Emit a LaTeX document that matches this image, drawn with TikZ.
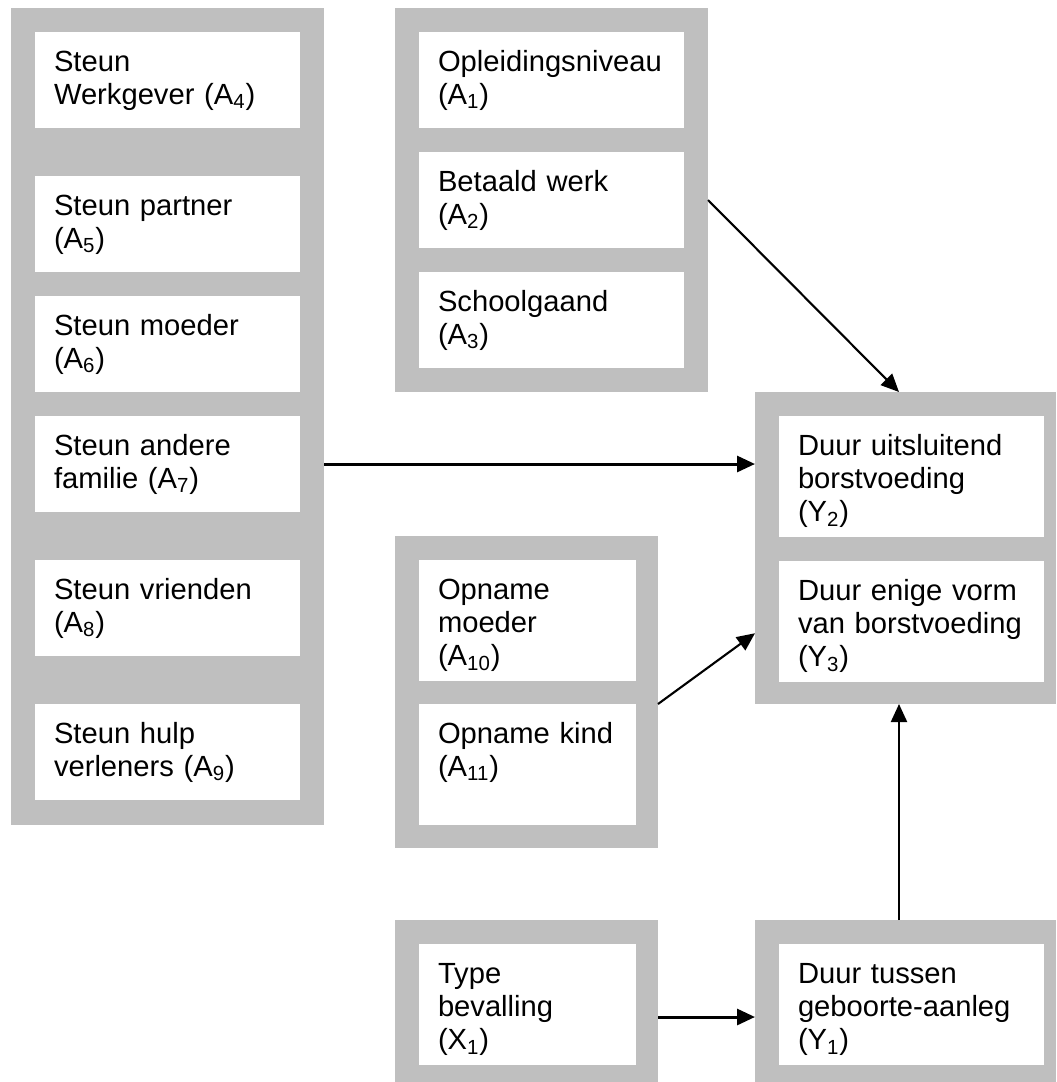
\documentclass[tikz,border=0pt]{standalone}
\usepackage{fontspec}
\setmainfont{Liberation Sans}
\usepackage{tikz}
\usetikzlibrary{arrows.meta, calc}
\definecolor{panelgray}{HTML}{BFBFBF}
\newcommand{\varfont}{\fontsize{16.6}{19}\selectfont}

\begin{document}
\begin{tikzpicture}[
    panel/.style={rectangle, fill=panelgray, anchor=north west, inner sep=0pt, outer sep=0pt},
    var/.style={rectangle, fill=white, anchor=north west, align=left, font=\varfont,
        inner xsep=0.38cm, inner ysep=0pt, outer sep=0pt, text height=0.78cm},
    wide/.style={text width=4.54cm},
    narrow/.style={text width=3.58cm},
    two/.style={text depth=1.14cm},
    three/.style={text depth=1.63cm},
    arr/.style={-{Triangle[length=0.36cm, width=0.32cm]}, line width=1.2pt, black},
    heavy/.style={line width=1.7pt}
]
    \useasboundingbox (0,0) rectangle (21.12,-21.64);

    % grey panels
    \node[panel, minimum width=6.26cm, minimum height=16.34cm] (support) at (0.22,-0.16) {};
    \node[panel, minimum width=6.26cm, minimum height=7.68cm] (socio) at (7.90,-0.16) {};
    \node[panel, minimum width=5.26cm, minimum height=6.24cm] (hosp) at (7.90,-10.72) {};
    \node[panel, minimum width=6.02cm, minimum height=6.24cm] (outcome) at (15.10,-7.84) {};
    \node[panel, minimum width=5.26cm, minimum height=3.24cm] (birth) at (7.90,-18.40) {};
    \node[panel, minimum width=6.02cm, minimum height=3.24cm] (timing) at (15.10,-18.40) {};

    % column 1: support
    \node[var, wide, two] (werkgever) at (0.70,-0.64) {Steun\\Werkgever (A\textsubscript{4})};
    \node[var, wide, two] (partner) at (0.70,-3.52) {Steun partner\\(A\textsubscript{5})};
    \node[var, wide, two] (moeder) at (0.70,-5.92) {Steun moeder\\(A\textsubscript{6})};
    \node[var, wide, two] (familie) at (0.70,-8.32) {Steun andere\\familie (A\textsubscript{7})};
    \node[var, wide, two] (vrienden) at (0.70,-11.20) {Steun vrienden\\(A\textsubscript{8})};
    \node[var, wide, two] (hulp) at (0.70,-14.08) {Steun hulp\\verleners (A\textsubscript{9})};

    % column 2: background, hospital, birth
    \node[var, wide, two] (opleiding) at (8.38,-0.64) {Opleidingsniveau\\(A\textsubscript{1})};
    \node[var, wide, two] (werk) at (8.38,-3.04) {Betaald werk\\(A\textsubscript{2})};
    \node[var, wide, two] (school) at (8.38,-5.44) {Schoolgaand\\(A\textsubscript{3})};
    \node[var, narrow, three] (opnmoeder) at (8.38,-11.20) {Opname\\moeder\\(A\textsubscript{10})};
    \node[var, narrow, three] (opnkind) at (8.38,-14.08) {Opname kind\\(A\textsubscript{11})};
    \node[var, narrow, three] (bevalling) at (8.38,-18.88) {Type\\bevalling\\(X\textsubscript{1})};

    % column 3: outcomes
    \node[var, wide, three] (uitsl) at (15.58,-8.32) {Duur uitsluitend\\borstvoeding\\(Y\textsubscript{2})};
    \node[var, wide, three] (enige) at (15.58,-11.22) {Duur enige vorm\\van borstvoeding\\(Y\textsubscript{3})};
    \node[var, wide, three] (tussen) at (15.58,-18.88) {Duur tussen\\geboorte-aanleg\\(Y\textsubscript{1})};

    % arrows
    \draw[arr] (socio.east) -- ([xshift=-0.13cm]outcome.north);
    \draw[arr, heavy] (familie -| support.east) -- (familie -| outcome.west);
    \draw[arr] (opnkind.north -| hosp.east) -- ($(enige.west -| outcome.west)+(0,-0.24)$);
    \draw[arr, heavy] ([yshift=-0.32cm]birth.east) -- ([yshift=-0.32cm]timing.west);
    \draw[arr] ([xshift=-0.13cm]timing.north) -- ([xshift=-0.13cm]outcome.south);
\end{tikzpicture}
\end{document}
